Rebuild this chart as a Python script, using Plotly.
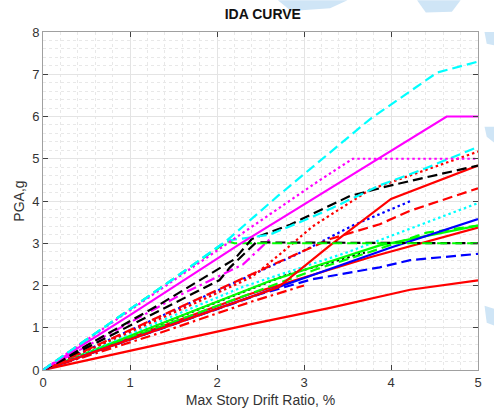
import plotly.graph_objects as go

# Incremental dynamic analysis: peak story drift (%) vs. PGA (g) for each record
cyan_a_x = [0, 1.46, 2.11, 2.70, 3.76, 4.53, 5.0]
cyan_a_y = [0, 2.10, 3.06, 4.12, 5.94, 7.04, 7.30]

mag_solid_x = [0, 1.0, 2.26, 4.64, 5.0]
mag_solid_y = [0, 1.30, 2.98, 6.00, 6.00]

mag_dot_x = [0, 2.76, 3.15, 3.56, 5.0]
mag_dot_y = [0, 3.90, 4.45, 5.00, 5.00]

cyan_b_x = [0, 1.46, 2.11, 2.60, 2.99, 3.33, 3.87, 4.33, 5.0]
cyan_b_y = [0, 2.10, 3.06, 3.20, 3.53, 3.84, 4.37, 4.72, 5.28]

red_dot_x = [0, 1.66, 2.40, 2.70, 3.10, 3.76, 5.0]
red_dot_y = [0, 1.50, 2.20, 2.70, 3.40, 4.27, 5.17]

blk_dash_a_x = [0, 1.34, 2.20, 2.40, 2.84, 3.53, 4.00, 4.68, 5.0]
blk_dash_a_y = [0, 1.55, 2.62, 3.10, 3.44, 4.12, 4.37, 4.70, 4.84]

red_solid_a_x = [0, 2.70, 3.30, 4.00, 5.0]
red_solid_a_y = [0, 1.95, 2.95, 4.05, 4.84]

red_dash_x = [0, 2.38, 3.30, 3.87, 4.22, 5.0]
red_dash_y = [0, 2.25, 3.10, 3.45, 3.77, 4.30]

blue_dot_x = [0, 2.92, 3.56, 4.25]
blue_dot_y = [0, 2.74, 3.42, 4.02]

cyan_dot_x = [0, 2.30, 3.49, 5.0]
cyan_dot_y = [0, 1.97, 2.78, 3.95]

blue_solid_x = [0, 2.38, 4.00, 5.0]
blue_solid_y = [0, 1.73, 2.90, 3.57]

green_solid_x = [0, 2.60, 3.87, 5.0]
green_solid_y = [0, 2.10, 2.95, 3.42]

red_solid_b_x = [0, 2.38, 3.76, 5.0]
red_solid_b_y = [0, 1.80, 2.67, 3.37]

green_dash_b_x = [0, 3.15, 3.84, 4.41, 5.0]
green_dash_b_y = [0, 2.39, 2.85, 3.25, 3.42]

green_dash_a_x = [0, 2.12, 2.20, 5.0]
green_dash_a_y = [0, 3.05, 3.00, 3.00]

blk_dash_b_x = [0, 2.03, 2.15, 2.45, 5.0]
blk_dash_b_y = [0, 2.13, 2.43, 3.02, 3.00]

blk_dot_x = [0, 2.80, 3.70]
blk_dot_y = [0, 2.25, 2.78]

blue_dash_x = [0, 2.50, 3.10, 3.87, 4.22, 5.0]
blue_dash_y = [0, 1.80, 2.15, 2.43, 2.60, 2.75]

red_solid_c_x = [0, 2.38, 3.30, 4.22, 5.0]
red_solid_c_y = [0, 1.08, 1.47, 1.90, 2.12]

mag_dashdot_x = [0, 1.60, 2.30, 2.62]
mag_dashdot_y = [0, 1.80, 2.50, 3.12]

red_dashdot_x = [0, 1.30, 2.40, 3.00]
red_dashdot_y = [0, 0.85, 1.62, 2.00]

x_ticks = [0, 1, 2, 3, 4, 5]
y_ticks = [0, 1, 2, 3, 4, 5, 6, 7, 8]

RED, GREEN, BLUE = "#ff0000", "#00ff00", "#0000ff"
CYAN, MAG, BLK = "#00ffff", "#ff00ff", "#000000"
DASH = "10px,5px"
DOT = "2.5px,3px"
DASHDOT = "10px,4px,2.5px,4px"

curves = [
    (red_solid_c_x, red_solid_c_y, RED, "solid"),
    (blue_dash_x, blue_dash_y, BLUE, DASH),
    (red_dashdot_x, red_dashdot_y, RED, DASHDOT),
    (blk_dot_x, blk_dot_y, BLK, DOT),
    (red_solid_b_x, red_solid_b_y, RED, "solid"),
    (green_dash_b_x, green_dash_b_y, GREEN, DASH),
    (green_solid_x, green_solid_y, GREEN, "solid"),
    (blue_solid_x, blue_solid_y, BLUE, "solid"),
    (cyan_dot_x, cyan_dot_y, CYAN, DOT),
    (blue_dot_x, blue_dot_y, BLUE, DOT),
    (red_dash_x, red_dash_y, RED, DASH),
    (red_solid_a_x, red_solid_a_y, RED, "solid"),
    (red_dot_x, red_dot_y, RED, DOT),
    (mag_dashdot_x, mag_dashdot_y, MAG, DASHDOT),
    (blk_dash_b_x, blk_dash_b_y, BLK, DASH),
    (green_dash_a_x, green_dash_a_y, GREEN, DASH),
    (blk_dash_a_x, blk_dash_a_y, BLK, DASH),
    (cyan_b_x, cyan_b_y, CYAN, DASH),
    (mag_dot_x, mag_dot_y, MAG, DOT),
    (mag_solid_x, mag_solid_y, MAG, "solid"),
    (cyan_a_x, cyan_a_y, CYAN, DASH),
]

fig = go.Figure()
for xs, ys, color, dash in curves:
    fig.add_trace(go.Scatter(
        x=xs, y=ys, mode="lines",
        line=dict(color=color, width=2.2, dash=dash),
        showlegend=False, hoverinfo="skip",
    ))

axis_common = dict(
    showline=True, linecolor="#a0a0a0", linewidth=1, mirror="ticks",
    ticks="inside", ticklen=5, tickcolor="#404040",
    showgrid=True, gridcolor="#e4e4e4", gridwidth=1,
    zeroline=False,
    tickfont=dict(family="Liberation Sans, Arial", size=13, color="#333333"),
    title_font=dict(family="Liberation Sans, Arial", size=14, color="#333333"),
    minor=dict(showgrid=True, gridcolor="#e8e8e8", griddash="dot", gridwidth=1),
)

fig.update_xaxes(
    range=[0, 5], tickvals=x_ticks, title_text="Max Story Drift Ratio, %",
    title_standoff=6, minor_dtick=0.2, **axis_common,
)
fig.update_yaxes(
    range=[0, 8], tickvals=y_ticks, title_text="PGA,g",
    title_standoff=4, minor_dtick=0.2, **axis_common,
)

# faint light-blue marks in the page background
blob = "#cfe5f6"
for path in [
    "M 0.54 1.094 L 0.70 1.094 L 0.66 1.07 L 0.57 1.062 Z",
    "M 0.86 1.094 L 0.96 1.094 L 0.94 1.06 L 0.88 1.058 Z",
    "M 1.015 1.0 L 1.04 1.0 L 1.04 0.96 L 1.02 0.965 Z",
    "M 1.015 0.72 L 1.04 0.72 L 1.04 0.67 L 1.02 0.69 Z",
    "M 1.015 0.19 L 1.04 0.18 L 1.04 0.13 L 1.02 0.14 Z",
]:
    fig.add_shape(type="path", path=path, xref="paper", yref="paper",
                  fillcolor=blob, line_width=0, layer="below")

fig.update_layout(
    width=494, height=417,
    margin=dict(l=43, r=16, t=32, b=43),
    paper_bgcolor="white", plot_bgcolor="white",
    title=dict(text="<b>IDA CURVE</b>", x=0.532, xanchor="center",
               y=0.965, yanchor="middle",
               font=dict(family="Liberation Sans, Arial", size=14, color="#111111")),
)

fig.write_html("out.html")
